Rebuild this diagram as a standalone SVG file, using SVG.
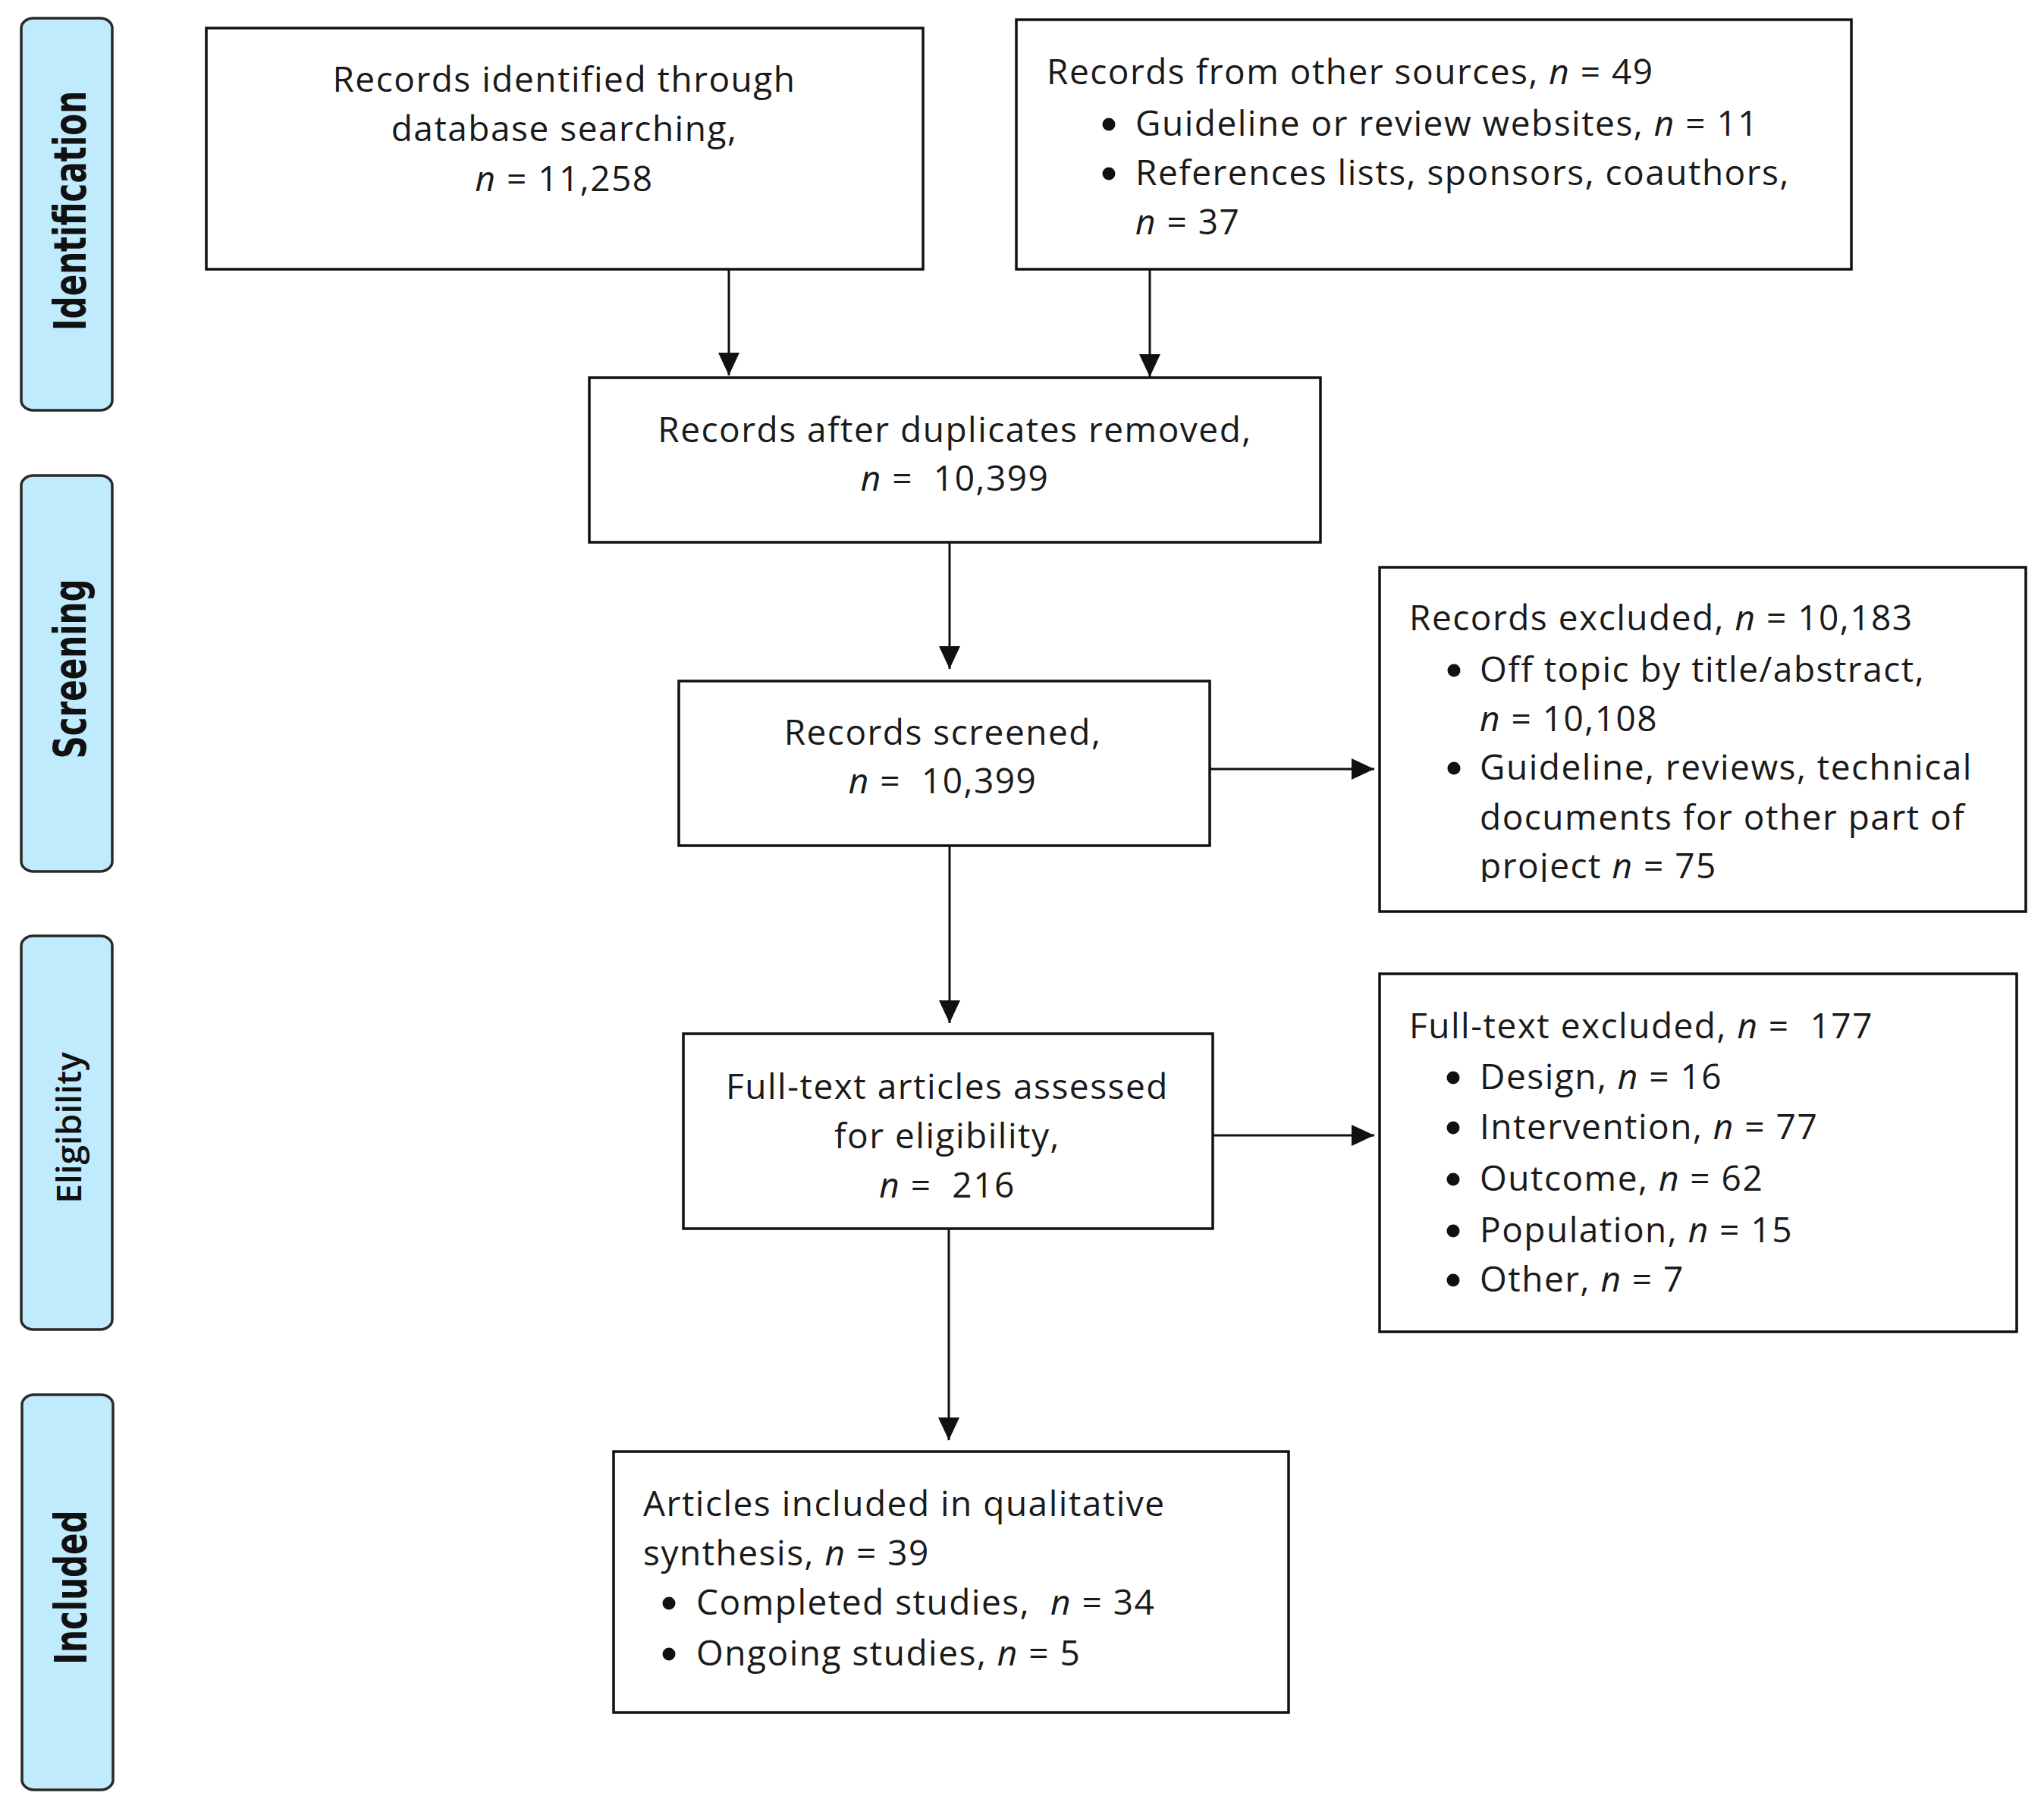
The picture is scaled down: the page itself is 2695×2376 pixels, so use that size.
<svg xmlns="http://www.w3.org/2000/svg" width="2695" height="2376" viewBox="0 0 2695 2376">
<defs>
<style>
.bar{fill:#BFEBFD;stroke:#2a2a2a;stroke-width:3.5}
.box{fill:#fff;stroke:#111;stroke-width:3.5}
.t{font-family:"Open Sans","Noto Sans","Liberation Sans",sans-serif;font-size:46px;fill:#1a1a1a;letter-spacing:1.5px;white-space:pre}
.c{text-anchor:middle}
.lab{font-family:"DejaVu Sans","Liberation Sans",sans-serif;font-weight:bold;font-size:42px;fill:#111;text-anchor:middle}
.lab2{font-family:"Open Sans","Noto Sans",sans-serif;font-weight:600;font-size:46px;fill:#111;text-anchor:middle}
.conn{stroke:#111;stroke-width:3;fill:none;marker-end:url(#ah)}
.bul{fill:#111}
</style>
<marker id="ah" markerUnits="userSpaceOnUse" markerWidth="30" markerHeight="28" refX="30" refY="14" orient="auto">
<path d="M0,0 L30,14 L0,28 z" fill="#111"/>
</marker>
<clipPath id="clip5"><rect x="1819" y="748" width="852" height="415"/></clipPath>
</defs>
<rect width="2695" height="2376" fill="#fff"/>

<g id="stage-identification">
<rect class="bar" x="28" y="24" width="120" height="517" rx="16" ry="13"/>
<text class="lab" transform="translate(113,278) rotate(-90) scale(1,1.4)">Identification</text>
</g>
<g id="stage-screening">
<rect class="bar" x="28" y="627" width="120" height="522" rx="16" ry="13"/>
<text class="lab" transform="translate(113,882) rotate(-90) scale(1,1.4)">Screening</text>
</g>
<g id="stage-eligibility">
<rect class="bar" x="28" y="1234" width="120" height="519" rx="16" ry="13"/>
<text class="lab2" transform="translate(107,1487) rotate(-90)">Eligibility</text>
</g>
<g id="stage-included">
<rect class="bar" x="29" y="1839" width="120" height="521" rx="16" ry="13"/>
<text class="lab" transform="translate(114,2093) rotate(-90) scale(1,1.4)">Included</text>
</g>

<g id="connectors">
<line class="conn" x1="961" y1="356" x2="961" y2="495"/>
<line class="conn" x1="1516" y1="355" x2="1516" y2="497"/>
<line class="conn" x1="1252" y1="715" x2="1252" y2="882"/>
<line class="conn" x1="1595" y1="1014" x2="1812" y2="1014"/>
<line class="conn" x1="1252" y1="1115" x2="1252" y2="1349"/>
<line class="conn" x1="1599" y1="1497" x2="1812" y2="1497"/>
<line class="conn" x1="1251" y1="1620" x2="1251" y2="1899"/>
</g>

<g id="node-database">
<rect class="box" x="272" y="37" width="945" height="318"/>
<text class="t c" x="744" y="121">Records identified through</text>
<text class="t c" x="744" y="186">database searching,</text>
<text class="t c" x="744" y="252"><tspan font-style="italic">n</tspan> = 11,258</text>
</g>

<g id="node-other">
<rect class="box" x="1340" y="26" width="1101" height="329"/>
<text class="t" x="1380" y="111">Records from other sources, <tspan font-style="italic">n</tspan> = 49</text>
<circle class="bul" cx="1462" cy="164" r="8.5"/>
<text class="t" x="1497" y="179">Guideline or review websites, <tspan font-style="italic">n</tspan> = 11</text>
<circle class="bul" cx="1462" cy="229" r="8.5"/>
<text class="t" x="1497" y="244">References lists, sponsors, coauthors,</text>
<text class="t" x="1497" y="309"><tspan font-style="italic">n</tspan> = 37</text>
</g>

<g id="node-dedup">
<rect class="box" x="777" y="498" width="964" height="217"/>
<text class="t c" x="1259" y="583">Records after duplicates removed,</text>
<text class="t c" x="1259" y="647"><tspan font-style="italic">n</tspan> =  10,399</text>
</g>

<g id="node-screened">
<rect class="box" x="895" y="898" width="700" height="217"/>
<text class="t c" x="1243" y="982">Records screened,</text>
<text class="t c" x="1243" y="1046"><tspan font-style="italic">n</tspan> =  10,399</text>
</g>

<g id="node-excluded">
<rect class="box" x="1819" y="748" width="852" height="454"/>
<g clip-path="url(#clip5)">
<text class="t" x="1858" y="831">Records excluded, <tspan font-style="italic">n</tspan> = 10,183</text>
<circle class="bul" cx="1917" cy="884" r="8.5"/>
<text class="t" x="1951" y="899">Off topic by title/abstract,</text>
<text class="t" x="1951" y="964"><tspan font-style="italic">n</tspan> = 10,108</text>
<circle class="bul" cx="1917" cy="1013" r="8.5"/>
<text class="t" x="1951" y="1028">Guideline, reviews, technical</text>
<text class="t" x="1951" y="1094">documents for other part of</text>
<text class="t" x="1951" y="1158">project <tspan font-style="italic">n</tspan> = 75</text>
</g>
</g>

<g id="node-fulltext">
<rect class="box" x="901" y="1363" width="698" height="257"/>
<text class="t c" x="1249" y="1449">Full-text articles assessed</text>
<text class="t c" x="1249" y="1514">for eligibility,</text>
<text class="t c" x="1249" y="1579"><tspan font-style="italic">n</tspan> =  216</text>
</g>

<g id="node-ftexcluded">
<rect class="box" x="1819" y="1284" width="840" height="472"/>
<text class="t" x="1858" y="1369">Full-text excluded, <tspan font-style="italic">n</tspan> =  177</text>
<circle class="bul" cx="1916" cy="1421" r="8.5"/>
<text class="t" x="1951" y="1436">Design, <tspan font-style="italic">n</tspan> = 16</text>
<circle class="bul" cx="1916" cy="1487" r="8.5"/>
<text class="t" x="1951" y="1502">Intervention, <tspan font-style="italic">n</tspan> = 77</text>
<circle class="bul" cx="1916" cy="1555" r="8.5"/>
<text class="t" x="1951" y="1570">Outcome, <tspan font-style="italic">n</tspan> = 62</text>
<circle class="bul" cx="1916" cy="1623" r="8.5"/>
<text class="t" x="1951" y="1638">Population, <tspan font-style="italic">n</tspan> = 15</text>
<circle class="bul" cx="1916" cy="1688" r="8.5"/>
<text class="t" x="1951" y="1703">Other, <tspan font-style="italic">n</tspan> = 7</text>
</g>

<g id="node-included">
<rect class="box" x="809" y="1914" width="890" height="344"/>
<text class="t" x="848" y="1999">Articles included in qualitative</text>
<text class="t" x="848" y="2064">synthesis, <tspan font-style="italic">n</tspan> = 39</text>
<circle class="bul" cx="882" cy="2114" r="8.5"/>
<text class="t" x="918" y="2129">Completed studies,  <tspan font-style="italic">n</tspan> = 34</text>
<circle class="bul" cx="882" cy="2181" r="8.5"/>
<text class="t" x="918" y="2196">Ongoing studies, <tspan font-style="italic">n</tspan> = 5</text>
</g>
</svg>
